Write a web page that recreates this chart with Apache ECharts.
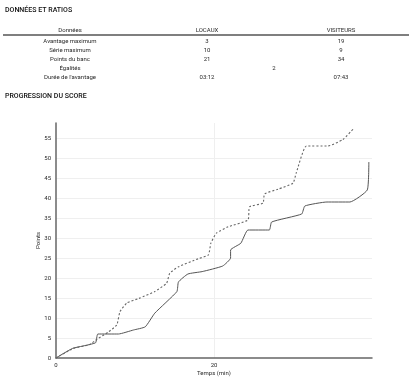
<!DOCTYPE html>
<html><head><meta charset="utf-8">
<script src="https://cdn.jsdelivr.net/npm/echarts@6/dist/echarts.min.js"></script>
<style>html,body{margin:0;padding:0;background:#fff}#c{width:411px;height:384px}</style>
</head><body><div id="c"></div>
<script>
const tableTitle = 'DONNÉES ET RATIOS';
const chartTitle = 'PROGRESSION DU SCORE';
const tableHeaders = ['Données', 'LOCAUX', 'VISITEURS'];
const rowLabels = ['Avantage maximum', 'Série maximum', 'Points du banc', 'Égalités', 'Durée de l\'avantage'];
const locauxStats = ['3', '10', '21', null, '03:12'];
const visiteursStats = ['19', '9', '34', null, '07:43'];
const sharedStats = [null, null, null, '2', null];

const locauxTimes = [0, 2.1, 5.0, 5.3, 7.9, 9.8, 11.3, 12.5, 15.3, 15.5, 16.7, 18.5, 21.1, 22.1, 22.1, 23.4, 24.3, 27.0, 27.3, 31.1, 31.5, 34.3, 37.2, 39.4, 39.6];
const locauxPoints = [0, 2.4, 3.8, 6, 6, 7, 7.8, 11.2, 16.6, 19, 21, 21.6, 23, 25, 27, 28.7, 32, 32, 34, 36, 38, 39, 39, 42, 49];
const visiteursTimes = [0, 2.2, 4.2, 5.2, 6.7, 7.7, 8.1, 9.0, 10.5, 12.5, 14.0, 14.4, 15.5, 18.0, 19.3, 19.6, 20.3, 21.8, 24.3, 24.5, 26.2, 26.4, 28.1, 30.0, 30.4, 31.7, 34.4, 36.3, 37.6];
const visiteursPoints = [0, 2.4, 3.3, 4.7, 6.6, 8.3, 11.6, 13.8, 14.9, 16.6, 18.7, 21.2, 22.8, 24.8, 25.8, 28.7, 31.2, 32.8, 34.5, 37.8, 38.7, 41, 42.2, 43.7, 46.2, 53, 53, 54.6, 57.2];

const xTicks = [0, 20];
const yMax = 58.75;

const FONT = 'Roboto';
const TXT = '#2a2a2a';
const colX = [70, 207, 341];
const sharedX = 274;
const headerY = 30;
const rowY = [41, 50, 59, 68, 77];

const g = [];
g.push({type:'text', left:5, top:7, style:{text:tableTitle, font:'500 7px ' + FONT, fill:'#111'}});
g.push({type:'text', left:5, top:93, style:{text:chartTitle, font:'500 7px ' + FONT, fill:'#111'}});
tableHeaders.forEach((h, i) => g.push({type:'text', x:colX[i], y:headerY, style:{text:h, font:'6px ' + FONT, fill:TXT, align:'center', verticalAlign:'middle'}}));
g.push({type:'line', shape:{x1:3, y1:35, x2:409, y2:35}, style:{stroke:'#555', lineWidth:1.6}});
rowLabels.forEach((r, i) => {
  g.push({type:'text', x:colX[0], y:rowY[i], style:{text:r, font:'6px ' + FONT, fill:TXT, align:'center', verticalAlign:'middle'}});
  if (locauxStats[i] !== null) g.push({type:'text', x:colX[1], y:rowY[i], style:{text:locauxStats[i], font:'6px ' + FONT, fill:TXT, align:'center', verticalAlign:'middle'}});
  if (visiteursStats[i] !== null) g.push({type:'text', x:colX[2], y:rowY[i], style:{text:visiteursStats[i], font:'6px ' + FONT, fill:TXT, align:'center', verticalAlign:'middle'}});
  if (sharedStats[i] !== null) g.push({type:'text', x:sharedX, y:rowY[i], style:{text:sharedStats[i], font:'6px ' + FONT, fill:TXT, align:'center', verticalAlign:'middle'}});
});

const chart = echarts.init(document.getElementById('c'), null, {renderer:'canvas'});
chart.setOption({
  animation:false,
  backgroundColor:'#fff',
  textStyle:{fontFamily:FONT},
  graphic:g,
  grid:{left:56, right:39, top:123, bottom:26, containLabel:false},
  xAxis:{
    type:'value', min:0, max:40, interval:20,
    name:'Temps (min)', nameLocation:'middle', nameGap:12, nameMoveOverlap:false,
    nameTextStyle:{fontSize:6, color:TXT, fontFamily:FONT},
    axisLine:{show:true, lineStyle:{color:'#666', width:1.5}},
    axisTick:{show:false},
    axisLabel:{fontSize:6, color:TXT, margin:4, showMaxLabel:false, formatter:v => xTicks.includes(v) ? String(v) : ''},
    splitLine:{show:true, showMinLine:false, showMaxLine:false, lineStyle:{color:'#efefef', width:1}}
  },
  yAxis:{
    type:'value', min:0, max:yMax, interval:5,
    name:'Points', nameLocation:'middle', nameGap:15, nameRotate:90, nameMoveOverlap:false,
    nameTextStyle:{fontSize:6, color:TXT, fontFamily:FONT},
    axisLine:{show:true, lineStyle:{color:'#666', width:1.5}},
    axisTick:{show:false},
    axisLabel:{fontSize:6, color:TXT, margin:5, showMaxLabel:false},
    splitLine:{show:true, showMinLine:false, showMaxLine:false, lineStyle:{color:'#efefef', width:1}}
  },
  series:[
    {name:'Locaux', type:'line', data:locauxTimes.map((t, i) => [t, locauxPoints[i]]), showSymbol:false, smooth:0.15,
     lineStyle:{color:'#555', width:1}},
    {name:'Visiteurs', type:'line', data:visiteursTimes.map((t, i) => [t, visiteursPoints[i]]), showSymbol:false, smooth:0.15,
     lineStyle:{color:'#666', width:1.1, type:[2, 2]}}
  ]
});
</script></body></html>
